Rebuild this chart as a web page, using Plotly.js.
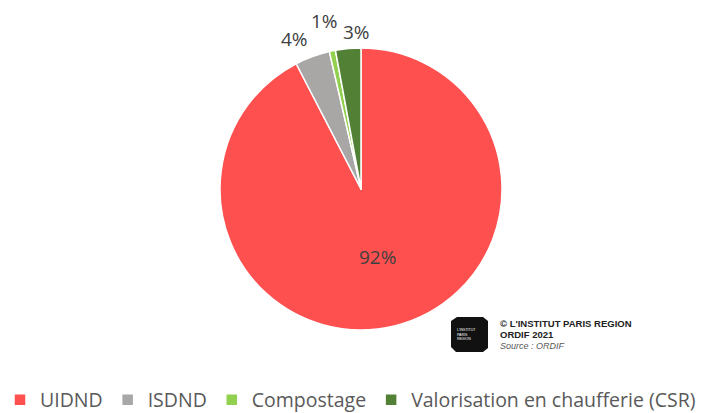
<!DOCTYPE html>
<html>
<head>
<meta charset="utf-8">
<script src="https://cdn.plot.ly/plotly-3.0.1.min.js"></script>
<style>
html,body{margin:0;padding:0;background:#fff;}
#chart{width:715px;height:413px;}
</style>
</head>
<body>
<div id="chart"></div>
<script>
const categories = ["UIDND", "ISDND", "Compostage", "Valorisation en chaufferie (CSR)"];
const shares = [92.4, 4.0, 0.7, 2.9];
const sliceColors = ["#FF5050", "#A9A6A6", "#92D050", "#528135"];

// label styling for slices whose percentage sits outside the pie
const outsideRadius = [null, 1.165, 1.22, 1.12];
const outsideShift = [null, [-10, -4], [-2, 0], [10, 0]];

const W = 715, H = 413;
const pieDomain = {x: [0.3077, 0.7021], y: [0.2010, 0.8838]};
const labelFont = {family: "Open Sans, Liberation Sans, sans-serif", size: 19, color: "#404040"};

const total = shares.reduce((a, b) => a + b, 0);
const pctText = shares.map(v => Math.round(100 * v / total) + "%");

const trace = {
  type: "pie",
  labels: categories,
  values: shares,
  sort: false,
  direction: "clockwise",
  rotation: 0,
  marker: {colors: sliceColors, line: {color: "#ffffff", width: 1.5}},
  text: pctText.map((t, i) => outsideRadius[i] ? "" : t),
  textinfo: "text",
  textposition: "inside",
  textfont: labelFont,
  insidetextorientation: "horizontal",
  hoverinfo: "label+percent",
  domain: pieDomain
};

// outside percentage labels, placed along each slice's mid-angle
const cx = (pieDomain.x[0] + pieDomain.x[1]) / 2;
const cy = (pieDomain.y[0] + pieDomain.y[1]) / 2;
const Rpx = (pieDomain.y[1] - pieDomain.y[0]) * H / 2;
const pctAnnotations = [];
let cum = 0;
shares.forEach((v, i) => {
  const mid = (cum + v / 2) / total * 2 * Math.PI; // clockwise from 12 o'clock
  cum += v;
  if (!outsideRadius[i]) return;
  const r = Rpx * outsideRadius[i];
  pctAnnotations.push({
    text: pctText[i], xref: "paper", yref: "paper",
    x: cx + r * Math.sin(mid) / W, y: cy + r * Math.cos(mid) / H,
    xanchor: "center", yanchor: "middle", showarrow: false,
    xshift: outsideShift[i][0], yshift: outsideShift[i][1],
    font: labelFont
  });
});

const layout = {
  width: W,
  height: H,
  margin: {l: 0, r: 0, t: 0, b: 0, autoexpand: false},
  paper_bgcolor: "#ffffff",
  showlegend: true,
  legend: {
    orientation: "h",
    x: 0, xanchor: "left",
    y: 13 / H, yanchor: "middle",
    font: {family: "Open Sans, Liberation Sans, sans-serif", size: 19.5, color: "#595959"},
    traceorder: "normal"
  },
  shapes: [
    {type: "path", xref: "paper", yref: "paper",
     path: "M 451 321 L 457 317 L 483 317 L 488 321 L 488 348 L 483 352 L 456 352 L 451 347 Z",
     fillcolor: "#111111", line: {width: 0}}
  ],
  annotations: [
    {text: "© L'INSTITUT PARIS REGION", x: 498, y: 323,
     font: {family: "Liberation Sans, Arial, sans-serif", size: 9.5, color: "#222222", weight: 700}},
    {text: "ORDIF 2021", x: 498, y: 334.5,
     font: {family: "Liberation Sans, Arial, sans-serif", size: 9.5, color: "#222222", weight: 700}},
    {text: "<i>Source : ORDIF</i>", x: 498, y: 346,
     font: {family: "Liberation Sans, Arial, sans-serif", size: 9, color: "#595959"}},
    {text: "L'INSTITUT<br>PARIS<br>REGION", x: 455, y: 334, align: "left",
     font: {family: "Liberation Sans, Arial, sans-serif", size: 3.5, color: "#ffffff"}}
  ]
};

// convert pixel-positioned decorations to paper coordinates
layout.shapes.forEach(s => {
  s.path = s.path.replace(/(\d+(?:\.\d+)?) (\d+(?:\.\d+)?)/g, (m, a, b) =>
    (parseFloat(a) / W).toFixed(5) + " " + (1 - parseFloat(b) / H).toFixed(5));
});
layout.annotations.forEach(a => {
  a.x = a.x / W; a.y = 1 - a.y / H;
  a.xref = "paper"; a.yref = "paper";
  a.xanchor = "left"; a.yanchor = "middle"; a.showarrow = false;
});
layout.annotations = layout.annotations.concat(pctAnnotations);

Plotly.newPlot("chart", [trace], layout, {displayModeBar: false, staticPlot: true});
</script>
</body>
</html>
